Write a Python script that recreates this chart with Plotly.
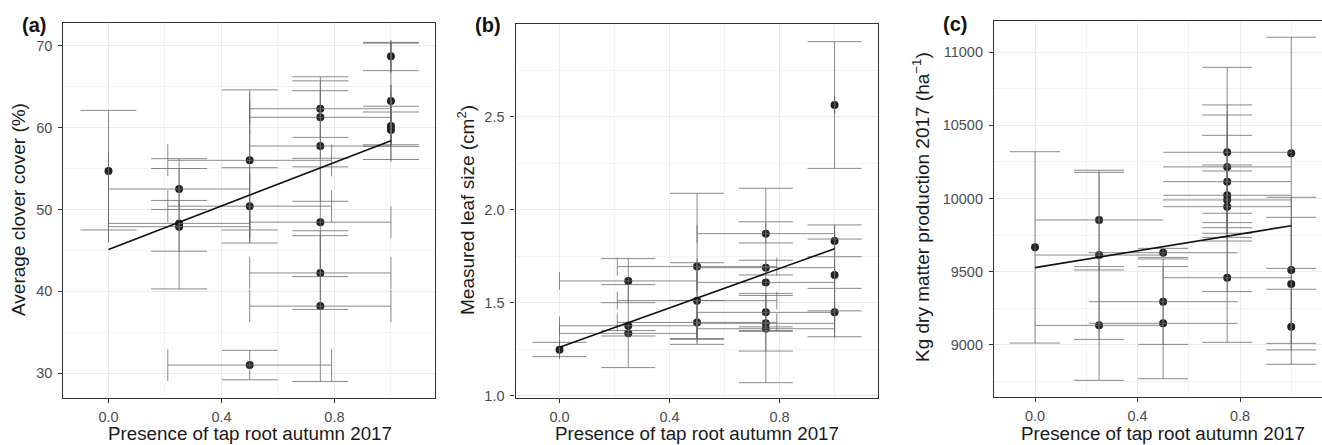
import numpy as np
import plotly.graph_objects as go

# ---------------- data ----------------
# Panel (a): average clover cover (%)
xa = [0, 0.25, 0.25, 0.25, 0.5, 0.5, 0.5, 0.75, 0.75, 0.75, 0.75, 0.75, 0.75, 1.0, 1.0, 1.0, 1.0]
ya = [54.7, 52.5, 48.3, 47.9, 56.0, 50.4, 31.0, 62.3, 61.25, 57.75, 48.45, 42.25, 38.2, 68.7, 63.25, 60.2, 59.7]
ya_lo = [47.5, 50.0, 40.3, 44.9, 47.5, 45.9, 29.2, 58.8, 56.25, 51.0, 41.8, 37.8, 29.0, 66.95, 56.1, 57.7, 57.9]
ya_hi = [62.1, 55.0, 56.2, 51.1, 64.6, 55.1, 32.8, 65.7, 66.2, 64.5, 55.2, 46.8, 47.4, 70.4, 70.3, 62.6, 61.9]
xa_se = [0, 0.25, 0.25, 0.25, 0.29, 0.29, 0.29, 0.25, 0.25, 0.25, 0.25, 0.25, 0.25, 0, 0, 0, 0]

# Panel (b): measured leaf size (cm2)
xb = [0, 0.25, 0.25, 0.25, 0.5, 0.5, 0.5, 0.75, 0.75, 0.75, 0.75, 0.75, 0.75, 1.0, 1.0, 1.0, 1.0]
yb = [1.247, 1.617, 1.376, 1.335, 1.694, 1.511, 1.394, 1.871, 1.688, 1.609, 1.448, 1.389, 1.360, 2.563, 1.832, 1.649, 1.448]
yb_lo = [1.210, 1.500, 1.151, 1.321, 1.303, 1.307, 1.276, 1.821, 1.649, 1.070, 1.346, 1.240, 1.350, 2.222, 1.747, 1.456, 1.317]
yb_hi = [1.287, 1.737, 1.597, 1.350, 2.088, 1.715, 1.512, 1.935, 1.728, 2.115, 1.550, 1.539, 1.370, 2.903, 1.918, 1.842, 1.577]
xb_se = [0, 0.25, 0.25, 0.25, 0.29, 0.29, 0.29, 0.25, 0.25, 0.25, 0.25, 0.25, 0.25, 0, 0, 0, 0]

# Panel (c): kg dry matter production 2017 (ha-1)
xc = [0, 0.25, 0.25, 0.25, 0.5, 0.5, 0.5, 0.75, 0.75, 0.75, 0.75, 0.75, 0.75, 0.75, 1.0, 1.0, 1.0, 1.0]
yc = [9666, 9853, 9613, 9132, 9629, 9294, 9146, 10316, 10216, 10115, 10022, 9990, 9944, 9458, 10309, 9511, 9415, 9123]
yc_lo = [9011, 9511, 9036, 8756, 9597, 9002, 8767, 9734, 9800, 9709, 9835, 9762, 9363, 9016, 9522, 9009, 8964, 8866]
yc_hi = [10320, 10193, 10179, 9534, 9659, 9586, 9534, 10897, 10640, 10432, 10229, 10188, 10571, 9899, 11103, 10008, 9871, 9379]
xc_se = [0, 0.25, 0.25, 0.25, 0.29, 0.29, 0.29, 0.25, 0.25, 0.25, 0.25, 0.25, 0.25, 0.25, 0, 0, 0, 0]

# fitted regression lines (end points)
fit_x = [0, 1]
fit_a = [45.1, 58.4]
fit_b = [1.26, 1.79]
fit_c = [9527, 9814]

x_title = "Presence of tap root autumn 2017"
y_titles = ["Average clover cover (%)",
            "Measured leaf size (cm<sup>2</sup>)",
            "Kg dry matter production 2017 (ha<sup>\u22121</sup>)"]
tags = ["(a)", "(b)", "(c)"]

# ---------------- figure ----------------
W, H = 1322, 445
FONT = "Liberation Sans, Arial, Helvetica, sans-serif"
ERR = "rgba(105,105,105,0.78)"
PT = "#222222"

fig = go.Figure()

panels = [
    dict(x=xa, y=ya, lo=ya_lo, hi=ya_hi, xse=xa_se, fit=fit_a, capy=28, capx=16),
    dict(x=xb, y=yb, lo=yb_lo, hi=yb_hi, xse=xb_se, fit=fit_b, capy=27, capx=9),
    dict(x=xc, y=yc, lo=yc_lo, hi=yc_hi, xse=xc_se, fit=fit_c, capy=25, capx=0),
]

for i, p in enumerate(panels):
    ax = "" if i == 0 else str(i + 1)
    y = np.array(p["y"], dtype=float)
    lo = np.array(p["lo"], dtype=float)
    hi = np.array(p["hi"], dtype=float)
    # points (drawn first so that error bars sit on top of them)
    fig.add_trace(go.Scatter(
        x=p["x"], y=p["y"], mode="markers",
        marker=dict(size=8, color=PT),
        xaxis="x" + ax, yaxis="y" + ax, showlegend=False, hoverinfo="skip"))
    # error bars
    fig.add_trace(go.Scatter(
        x=p["x"], y=p["y"], mode="markers",
        marker=dict(size=1, color="rgba(0,0,0,0)"),
        error_y=dict(type="data", symmetric=False, array=list(hi - y),
                     arrayminus=list(y - lo), width=p["capy"], thickness=1, color=ERR),
        error_x=dict(type="data", symmetric=True, array=p["xse"],
                     width=p["capx"], thickness=1, color=ERR),
        xaxis="x" + ax, yaxis="y" + ax, showlegend=False, hoverinfo="skip"))
    # regression line
    fig.add_trace(go.Scatter(
        x=fit_x, y=p["fit"], mode="lines",
        line=dict(color="#111111", width=1.6),
        xaxis="x" + ax, yaxis="y" + ax, showlegend=False, hoverinfo="skip"))

def px_x(v):
    return v / W

def px_y(v):
    return 1 - v / H

xdomains = [[px_x(63.3), px_x(435)], [px_x(515.5), px_x(877.5)], [px_x(994), 1.0]]
ydomains = [[px_y(398), px_y(23.3)], [px_y(398.3), px_y(24)], [px_y(397.3), px_y(20.7)]]
xranges = [[-0.16, 1.156], [-0.16, 1.156], [-0.16, 1.12]]
yranges = [[26.98, 72.73], [0.986, 2.998], [8640, 11216]]
ydticks = [10, 0.5, 500]
yminor = [5, 0.25, 250]
ytick0 = [30, 1.0, 9000]
yfmt = ["d", ".1f", "d"]

tickfont = dict(family=FONT, size=14.5, color="#4d4d4d")
layout = dict(
    width=W, height=H,
    margin=dict(l=0, r=0, t=0, b=0),
    paper_bgcolor="white", plot_bgcolor="white",
    font=dict(family=FONT),
    showlegend=False,
)
for i in range(3):
    ax = "" if i == 0 else str(i + 1)
    layout["xaxis" + ax] = dict(
        domain=xdomains[i], range=xranges[i], anchor="y" + ax,
        tickmode="array", tickvals=[0, 0.4, 0.8], ticktext=["0.0", "0.4", "0.8"],
        showgrid=True, gridcolor="#ebebeb", gridwidth=1.2,
        minor=dict(tick0=0, dtick=0.2, showgrid=True, gridcolor="#f3f3f3", gridwidth=0.8),
        showline=True, mirror=True, linecolor="#333333", linewidth=1.2,
        ticks="outside", ticklen=4, tickcolor="#333333", tickwidth=1,
        ticklabelstandoff=1,
        tickfont=tickfont, zeroline=False, automargin=False, fixedrange=True)
    layout["yaxis" + ax] = dict(
        domain=ydomains[i], range=yranges[i], anchor="x" + ax,
        tick0=ytick0[i], dtick=ydticks[i], tickformat=yfmt[i],
        showgrid=True, gridcolor="#ebebeb", gridwidth=1.2,
        minor=dict(tick0=ytick0[i], dtick=yminor[i], showgrid=True, gridcolor="#f3f3f3", gridwidth=0.8),
        showline=True, mirror=(i < 2), linecolor="#333333", linewidth=1.2,
        ticks="outside", ticklen=4, tickcolor="#333333", tickwidth=1,
        ticklabelstandoff=3,
        tickfont=tickfont, zeroline=False, automargin=False, fixedrange=True)

annotations = []
xt_pos = [(250, 433.5), (697, 433.5), (1163, 433.5)]
yt_pos = [(18, 210), (466, 210), (921, 207)]
tag_pos = [(34, 25), (488, 25), (955, 24)]
for i in range(3):
    annotations.append(dict(
        text=x_title, xref="paper", yref="paper",
        x=px_x(xt_pos[i][0]), y=px_y(xt_pos[i][1]), xanchor="center", yanchor="middle",
        showarrow=False, borderpad=0, font=dict(family=FONT, size=18.8, color="#1a1a1a")))
    annotations.append(dict(
        text=y_titles[i], xref="paper", yref="paper", textangle=-90,
        x=px_x(yt_pos[i][0]), y=px_y(yt_pos[i][1]), xanchor="center", yanchor="middle",
        showarrow=False, borderpad=0, font=dict(family=FONT, size=19, color="#1a1a1a")))
    annotations.append(dict(
        text="<b>" + tags[i] + "</b>", xref="paper", yref="paper",
        x=px_x(tag_pos[i][0]), y=px_y(tag_pos[i][1]), xanchor="center", yanchor="middle",
        showarrow=False, borderpad=0, font=dict(family=FONT, size=20, color="#111111")))
layout["annotations"] = annotations

fig.update_layout(**layout)
fig.write_html("out.html",
               config={"displayModeBar": False},
               post_script="document.body.style.margin='0px';document.body.style.overflow='hidden';")
